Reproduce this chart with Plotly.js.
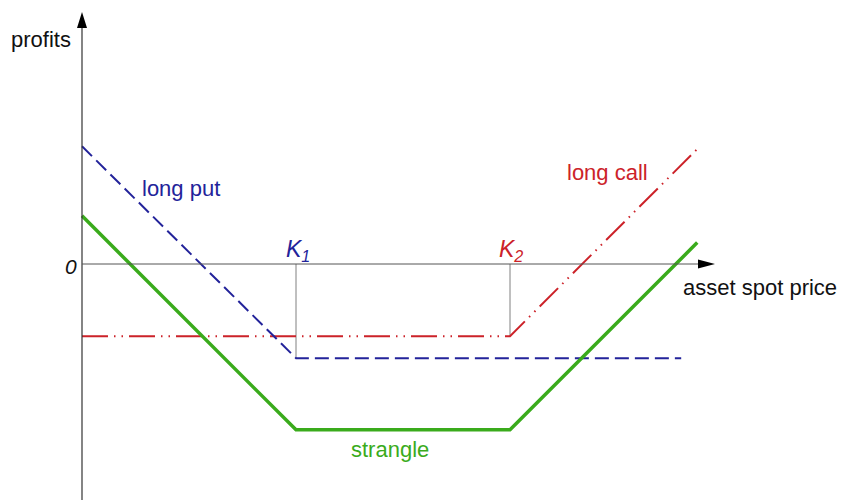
<!DOCTYPE html>
<html><head><meta charset="utf-8">
<script src="https://cdn.plot.ly/plotly-3.0.1.min.js"></script>
<style>html,body{margin:0;padding:0;background:#fff}#chart{width:845px;height:500px}</style>
</head><body><div id="chart"></div>
<script>
// strikes
const K1 = 40, K2 = 80;
// long put payoff
const putX = [0, 40, 112];
const putY = [22, -17.6, -17.6];
// long call payoff
const callX = [0, 80, 115];
const callY = [-13.5, -13.5, 21.5];
// strangle payoff
const strX = [0, 40, 80, 115];
const strY = [9, -31, -31, 4];

const S = 5.35; // px per unit
const X = p => (p - 82) / S;
const Y = p => (264 - p) / S;

const blue = '#23239a', red = '#cc2229', green = '#3aab1c';
const font = 'Liberation Sans, Arial, sans-serif';

const traces = [
  {x: [K1, K1], y: [0, putY[1]], mode: 'lines', line: {color: '#808080', width: 1}, hoverinfo: 'skip'},
  {x: [K2, K2], y: [0, callY[1]], mode: 'lines', line: {color: '#808080', width: 1}, hoverinfo: 'skip'},
  {x: callX, y: callY, mode: 'lines', line: {color: red, width: 2, dash: '26px,6px,1.5px,6px,1.5px,6px'}},
  {x: putX, y: putY, mode: 'lines', line: {color: blue, width: 2, dash: '14px,6px'}},
  {x: strX, y: strY, mode: 'lines', line: {color: green, width: 3.5}}
];

const shapes = [
  {type: 'line', x0: 0, x1: 0, y0: Y(500), y1: Y(26), line: {color: '#333', width: 1.2}},
  {type: 'line', x0: 0, x1: X(700), y0: 0, y1: 0, line: {color: '#555', width: 1}},
  {type: 'path', xsizemode: 'pixel', ysizemode: 'pixel', xanchor: 0, yanchor: Y(12),
   path: 'M0,0 L-5,-16 L5,-16 Z', fillcolor: '#000', line: {width: 0}},
  {type: 'path', xsizemode: 'pixel', ysizemode: 'pixel', xanchor: X(715), yanchor: 0,
   path: 'M0,0 L-17,4.5 L-17,-4.5 Z', fillcolor: '#000', line: {width: 0}}
];

const ann = (t, px, py, color, size, style) => ({text: t, x: X(px), y: Y(py), showarrow: false,
  font: {family: font, size: size || 22, color: color, style: style || 'normal'},
  xanchor: 'center', yanchor: 'middle'});

const annotations = [
  ann('profits', 41, 39, '#111'),
  ann('0', 71, 266, '#111', 21, 'italic'),
  ann('long put', 181, 188, blue),
  ann('long call', 607, 172, red),
  ann('asset spot price', 760, 287, '#111'),
  ann('strangle', 390, 449, green),
  ann('K<sub>1</sub>', 298, 250, blue, 23, 'italic'),
  ann('K<sub>2</sub>', 511, 250, red, 23, 'italic')
];

Plotly.newPlot('chart', traces, {
  width: 845, height: 500,
  margin: {l: 0, r: 0, t: 0, b: 0},
  paper_bgcolor: '#fff', plot_bgcolor: '#fff',
  showlegend: false,
  xaxis: {range: [X(0), X(845)], visible: false, fixedrange: true},
  yaxis: {range: [Y(500), Y(0)], visible: false, fixedrange: true},
  shapes: shapes,
  annotations: annotations
}, {staticPlot: true});
</script></body></html>
